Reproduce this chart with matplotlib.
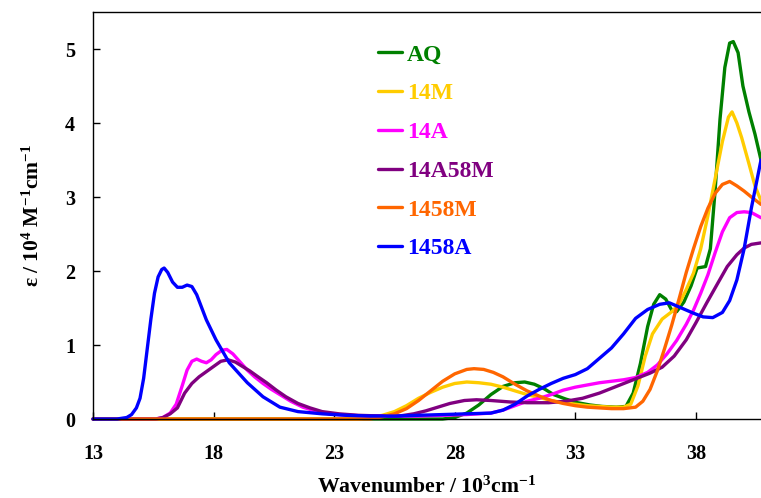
import numpy as np
import matplotlib
matplotlib.use("Agg")
import matplotlib.pyplot as plt

plt.rcParams["font.family"] = ["Liberation Serif", "DejaVu Serif"]
plt.rcParams["font.weight"] = "bold"
plt.rcParams["mathtext.fontset"] = "custom"
plt.rcParams["mathtext.rm"] = "Liberation Serif:bold"
plt.rcParams["mathtext.it"] = "Liberation Serif:bold"
plt.rcParams["mathtext.bf"] = "Liberation Serif:bold"

# wavenumber in 10^3 cm^-1, epsilon in 10^4 M^-1 cm^-1
aq_x = [13.0, 27.5, 28.0, 28.5, 29.0, 29.5, 30.0, 30.5, 30.9, 31.3, 31.7, 32.1, 32.6, 33.1,
        33.6, 34.1, 34.7, 35.1, 35.4, 35.7, 36.0, 36.25, 36.5, 36.75, 37.0, 37.2, 37.5, 37.8,
        38.05, 38.4, 38.6, 38.8, 39.0, 39.2, 39.4, 39.55, 39.75, 39.95, 40.2, 40.45, 40.7]
aq_y = [0.0, 0.0, 0.02, 0.08, 0.19, 0.33, 0.44, 0.49, 0.50, 0.47, 0.41, 0.33, 0.27, 0.22,
        0.19, 0.17, 0.16, 0.17, 0.35, 0.75, 1.25, 1.55, 1.68, 1.62, 1.47, 1.45, 1.58, 1.80,
        2.04, 2.06, 2.30, 3.10, 4.05, 4.75, 5.08, 5.10, 4.95, 4.50, 4.15, 3.85, 3.50]

m14_x = [13.0, 24.0, 24.5, 25.0, 25.5, 26.0, 26.5, 27.0, 27.5, 28.0, 28.5, 29.0, 29.5, 30.0,
         30.5, 31.0, 31.5, 32.0, 32.5, 33.0, 33.5, 34.0, 34.5, 35.0, 35.3, 35.6, 35.9, 36.2,
         36.6, 37.0, 37.3, 37.6, 37.9, 38.2, 38.5, 38.8, 39.1, 39.35, 39.5, 39.7, 39.9, 40.2,
         40.45, 40.7]
m14_y = [0.0, 0.0, 0.02, 0.05, 0.10, 0.18, 0.28, 0.36, 0.43, 0.48, 0.50, 0.49, 0.47, 0.43,
         0.38, 0.33, 0.29, 0.25, 0.22, 0.20, 0.18, 0.17, 0.16, 0.16, 0.20, 0.45, 0.85, 1.15,
         1.35, 1.45, 1.55, 1.75, 1.97, 2.30, 2.75, 3.25, 3.75, 4.08, 4.15, 4.00, 3.80, 3.45,
         3.15, 2.95]

a14_x = [13.0, 15.6, 15.9, 16.2, 16.45, 16.7, 16.9, 17.1, 17.3, 17.5, 17.7, 17.9, 18.1, 18.35,
         18.55, 18.8, 19.1, 19.4, 19.7, 20.05, 20.4, 20.75, 21.2, 21.7, 22.2, 22.8, 23.5, 24.5,
         25.5, 26.5, 27.5, 28.5, 29.5, 30.0, 30.5, 31.0, 31.5, 32.0, 32.5, 33.0, 33.5, 34.0,
         34.5, 35.0, 35.5, 36.0, 36.4, 36.8, 37.2, 37.6, 37.9, 38.2, 38.5, 38.8, 39.1, 39.4,
         39.7, 40.0, 40.3, 40.7]
a14_y = [0.0, 0.0, 0.02, 0.08, 0.20, 0.45, 0.66, 0.78, 0.81, 0.78, 0.76, 0.80, 0.87, 0.93,
         0.94, 0.88, 0.77, 0.66, 0.57, 0.48, 0.40, 0.33, 0.24, 0.16, 0.11, 0.07, 0.05, 0.04,
         0.04, 0.04, 0.05, 0.06, 0.08, 0.12, 0.18, 0.24, 0.28, 0.33, 0.39, 0.43, 0.46, 0.49,
         0.51, 0.53, 0.56, 0.63, 0.73, 0.88, 1.06, 1.28, 1.47, 1.70, 1.95, 2.25, 2.53, 2.72,
         2.79, 2.80, 2.79, 2.72]

a14m58_x = [13.0, 15.6, 15.9, 16.2, 16.5, 16.8, 17.1, 17.4, 17.7, 18.0, 18.3, 18.6, 18.9, 19.2,
            19.5, 19.8, 20.2, 20.6, 21.0, 21.5, 22.0, 22.5, 23.2, 24.0, 25.0, 25.7, 26.3, 26.8,
            27.3, 27.8, 28.4, 28.9, 29.5, 30.3, 31.0, 31.9, 32.6, 33.3, 34.0, 34.7, 35.4, 36.1,
            36.6, 37.1, 37.6, 38.0, 38.45, 38.9, 39.3, 39.7, 40.0, 40.3, 40.7]
a14m58_y = [0.0, 0.0, 0.02, 0.07, 0.15, 0.35, 0.48, 0.57, 0.64, 0.71, 0.78, 0.80, 0.77, 0.71,
            0.65, 0.58, 0.49, 0.39, 0.30, 0.21, 0.15, 0.10, 0.07, 0.05, 0.04, 0.04, 0.07, 0.11,
            0.16, 0.21, 0.25, 0.26, 0.25, 0.23, 0.22, 0.22, 0.24, 0.28, 0.35, 0.44, 0.53, 0.62,
            0.70, 0.85, 1.07, 1.30, 1.57, 1.83, 2.06, 2.22, 2.31, 2.36, 2.38]

m1458_x = [13.0, 24.5, 25.0, 25.5, 26.0, 26.5, 27.0, 27.5, 28.0, 28.5, 28.8, 29.2, 29.6, 30.0,
           30.5, 31.0, 31.5, 32.0, 32.5, 33.0, 33.5, 34.0, 34.5, 35.0, 35.5, 35.8, 36.1, 36.4,
           36.7, 37.0, 37.3, 37.6, 37.9, 38.2, 38.5, 38.8, 39.1, 39.4, 39.7, 40.0, 40.3, 40.7]
m1458_y = [0.0, 0.0, 0.03, 0.07, 0.14, 0.25, 0.38, 0.51, 0.61, 0.67, 0.68, 0.67, 0.63, 0.57,
           0.47, 0.38, 0.31, 0.25, 0.21, 0.18, 0.16, 0.15, 0.14, 0.14, 0.16, 0.24, 0.40, 0.65,
           0.95, 1.27, 1.62, 1.98, 2.30, 2.60, 2.85, 3.05, 3.17, 3.21, 3.15, 3.08, 3.00, 2.90]

a1458_x = [13.0, 14.0, 14.4, 14.6, 14.8, 14.95, 15.1, 15.25, 15.4, 15.55, 15.7, 15.85, 15.95,
           16.1, 16.3, 16.5, 16.7, 16.9, 17.1, 17.3, 17.7, 18.1, 18.65, 19.4, 20.05, 20.75,
           21.5, 22.5, 23.5, 24.5, 25.5, 26.5, 27.5, 28.5, 29.5, 30.0, 30.5, 31.0, 31.5, 32.0,
           32.5, 33.0, 33.5, 34.0, 34.5, 35.0, 35.5, 36.0, 36.5, 36.9, 37.4, 37.9, 38.3, 38.7,
           39.1, 39.4, 39.7, 40.0, 40.3, 40.7]
a1458_y = [0.0, 0.0, 0.02, 0.06, 0.15, 0.28, 0.55, 0.95, 1.35, 1.70, 1.92, 2.02, 2.04,
           1.98, 1.85, 1.78, 1.78, 1.81, 1.79, 1.68, 1.34, 1.07, 0.76, 0.49, 0.30, 0.16,
           0.10, 0.07, 0.05, 0.04, 0.04, 0.05, 0.06, 0.07, 0.08, 0.12, 0.20, 0.31, 0.40, 0.48,
           0.55, 0.60, 0.68, 0.82, 0.96, 1.15, 1.36, 1.48, 1.55, 1.57, 1.50, 1.43, 1.38, 1.37,
           1.44, 1.60, 1.88, 2.30, 2.85, 3.50]

names = ["AQ", "14M", "14A", "14A58M", "1458M", "1458A"]
colors = ["#008000", "#FFCC00", "#FF00FF", "#800080", "#FF6600", "#0000FF"]
series = [(aq_x, aq_y), (m14_x, m14_y), (a14_x, a14_y),
          (a14m58_x, a14m58_y), (m1458_x, m1458_y), (a1458_x, a1458_y)]

fig = plt.figure(figsize=(7.61, 4.98), dpi=100)
ax = fig.add_axes([93 / 761, 79 / 498, 668 / 761, 407 / 498])

for (xs, ys), name, c in zip(series, names, colors):
    ax.plot(xs, ys, color=c, lw=2.4, label=name, clip_on=False,
            solid_joinstyle="round", solid_capstyle="round")

ax.set_xlim(13, 40.7)
ax.set_ylim(0, 5.5)
ax.set_xticks([13, 18, 23, 28, 33, 38])
ax.set_yticks([0, 1, 2, 3, 4, 5])
ax.tick_params(axis="x", direction="in", length=5, width=1, labelsize=14.5, pad=18)
ax.tick_params(axis="y", direction="in", length=5, width=1, labelsize=14.5, pad=13)
ax.spines["right"].set_visible(False)
for s in ["left", "bottom", "top"]:
    ax.spines[s].set_linewidth(1.0)

ax.set_xlabel("Wavenumber / 10$^{3}$cm$^{-1}$", fontsize=15.7, fontweight="bold", labelpad=9)
ax.set_ylabel("ε / 10$^{4}$ M$^{-1}$cm$^{-1}$", fontsize=15.5, fontweight="bold", labelpad=15)

leg = ax.legend(loc="upper left", bbox_to_anchor=(378 / 761, 1 - 44 / 498),
                bbox_transform=fig.transFigure, frameon=False, handlelength=1.0,
                handletextpad=0.22, labelspacing=0.73, borderpad=0, borderaxespad=0,
                labelcolor="linecolor", prop={"size": 17, "weight": "bold"})

fig.savefig("out.png", dpi=100)
plt.close(fig)
